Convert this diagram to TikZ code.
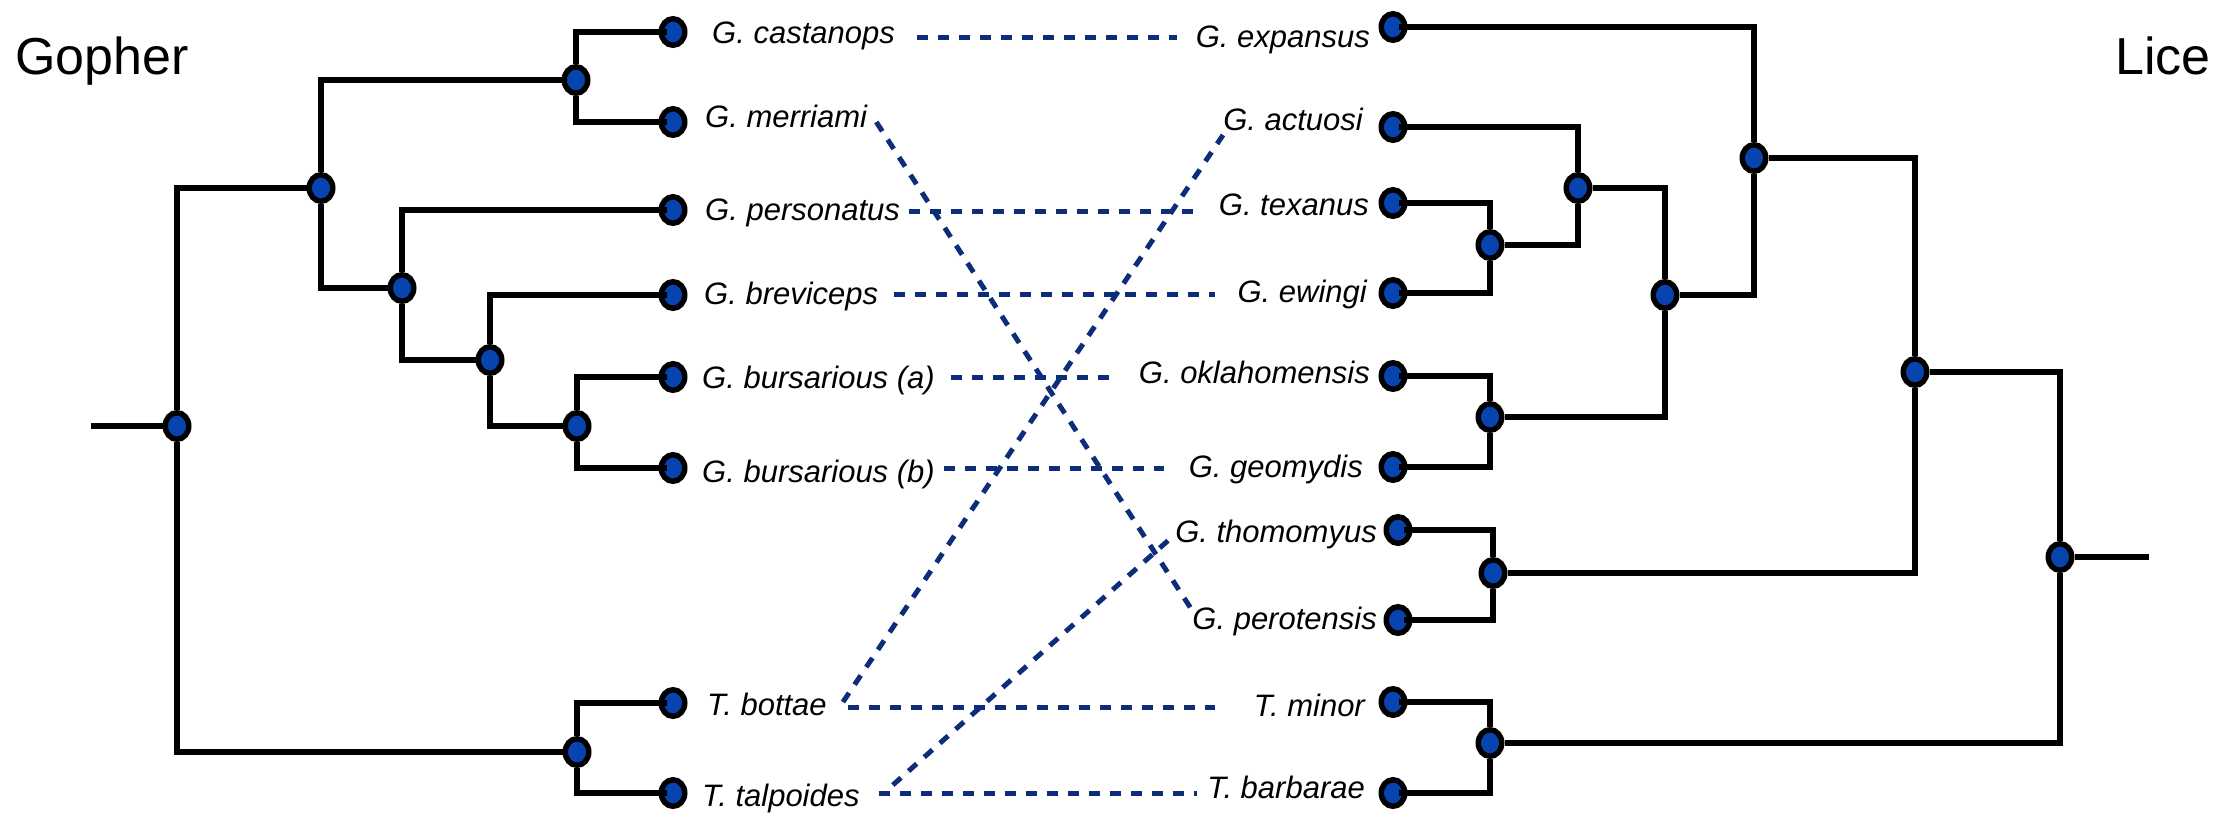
\documentclass[tikz,border=0pt]{standalone}
\usepackage{fontspec}
\setmainfont{Liberation Sans}
\usetikzlibrary{shapes.geometric}
\pgfdeclarelayer{bg}
\pgfsetlayers{bg,main}
\definecolor{nodeblue}{RGB}{8,68,176}
\definecolor{linkblue}{RGB}{12,46,122}

\begin{document}
\begin{tikzpicture}[x=1pt,y=-1pt,
  tnode/.style={ellipse, draw=black, line width=5.5pt, fill=nodeblue,
    minimum width=23.5pt, minimum height=26.5pt, inner sep=0pt},
  branch/.style={line width=5.3pt, black},
  taxon/.style={font=\fontsize{31}{37}\selectfont\itshape, inner sep=0pt},
  treetitle/.style={font=\fontsize{52}{60}\selectfont, inner sep=0pt},
  link/.style={linkblue, line width=5pt, dash pattern=on 11pt off 10pt},
]
\useasboundingbox (0,0) rectangle (2215,812);

% titles
\node[treetitle, anchor=base west] (gtitle) at (15,74) {Gopher};
\node[treetitle, anchor=base east] (ltitle) at (2211,74) {Lice};

% ---------------- gopher tree ----------------
\coordinate (gstub) at (91,426);
\node[tnode] (g0)  at (177,426) {};
\node[tnode] (gA)  at (321,188) {};
\node[tnode] (gCM) at (576,80)  {};
\node[tnode] (gP)  at (402,288) {};
\node[tnode] (gQ)  at (490,360) {};
\node[tnode] (gR)  at (577,426) {};
\node[tnode] (gT)  at (577,752) {};

\node[tnode] (castanops)  at (673,32)  {};
\node[tnode] (merriami)   at (673,122) {};
\node[tnode] (personatus) at (673,210) {};
\node[tnode] (breviceps)  at (673,295) {};
\node[tnode] (bursA)      at (673,377) {};
\node[tnode] (bursB)      at (673,468) {};
\node[tnode] (bottae)     at (673,703) {};
\node[tnode] (talpoides)  at (673,793) {};

\node[taxon, anchor=base west] (castanops-l)  at (712,43)  {G. castanops};
\node[taxon, anchor=base west] (merriami-l)   at (705,127) {G. merriami};
\node[taxon, anchor=base west] (personatus-l) at (705,220) {G. personatus};
\node[taxon, anchor=base west] (breviceps-l)  at (704,304) {G. breviceps};
\node[taxon, anchor=base west] (bursA-l)      at (702,388) {G. bursarious (a)};
\node[taxon, anchor=base west] (bursB-l)      at (702,482) {G. bursarious (b)};
\node[taxon, anchor=base west] (bottae-l)     at (707,715) {T. bottae};
\node[taxon, anchor=base west] (talpoides-l)  at (702,806) {T. talpoides};

% ---------------- lice tree ----------------
\coordinate (lstub) at (2149,557);
\node[tnode] (l0)   at (2060,557) {};
\node[tnode] (lETP) at (1915,372) {};
\node[tnode] (lE)   at (1754,158) {};
\node[tnode] (lATOG) at (1665,295) {};
\node[tnode] (lAT)  at (1578,188) {};
\node[tnode] (lTE)  at (1490,245) {};
\node[tnode] (lOG)  at (1490,417) {};
\node[tnode] (lTP)  at (1493,573) {};
\node[tnode] (lMB)  at (1490,743) {};

\node[tnode] (expansus)     at (1393,27)  {};
\node[tnode] (actuosi)      at (1393,127) {};
\node[tnode] (texanus)      at (1393,203) {};
\node[tnode] (ewingi)       at (1393,293) {};
\node[tnode] (oklahomensis) at (1393,376) {};
\node[tnode] (geomydis)     at (1393,467) {};
\node[tnode] (thomomyus)    at (1398,530) {};
\node[tnode] (perotensis)   at (1398,620) {};
\node[tnode] (minor)        at (1393,702) {};
\node[tnode] (barbarae)     at (1393,793) {};

\node[taxon, anchor=base east] (expansus-l)     at (1370,47)  {G. expansus};
\node[taxon, anchor=base east] (actuosi-l)      at (1363,130) {G. actuosi};
\node[taxon, anchor=base east] (texanus-l)      at (1369,215) {G. texanus};
\node[taxon, anchor=base east] (ewingi-l)       at (1367,302) {G. ewingi};
\node[taxon, anchor=base east] (oklahomensis-l) at (1370,383) {G. oklahomensis};
\node[taxon, anchor=base east] (geomydis-l)     at (1363,477) {G. geomydis};
\node[taxon, anchor=base east] (thomomyus-l)    at (1377,542) {G. thomomyus};
\node[taxon, anchor=base east] (perotensis-l)   at (1377,629) {G. perotensis};
\node[taxon, anchor=base east] (minor-l)        at (1365,716) {T. minor};
\node[taxon, anchor=base east] (barbarae-l)     at (1365,798) {T. barbarae};

% internal branches sit below the node markers
\begin{pgfonlayer}{bg}
  \draw[branch] (gstub) -- (g0);
  \draw[branch] (g0) |- (gA);
  \draw[branch] (g0) |- (gT);
  \draw[branch] (gA) |- (gCM);
  \draw[branch] (gA) |- (gP);
  \draw[branch] (gP) |- (gQ);
  \draw[branch] (gQ) |- (gR);

  \draw[branch] (lstub) -- (l0);
  \draw[branch] (l0) |- (lETP);
  \draw[branch] (l0) |- (lMB);
  \draw[branch] (lETP) |- (lE);
  \draw[branch] (lETP) |- (lTP);
  \draw[branch] (lE) |- (lATOG);
  \draw[branch] (lATOG) |- (lAT);
  \draw[branch] (lATOG) |- (lOG);
  \draw[branch] (lAT) |- (lTE);
\end{pgfonlayer}

% terminal branches run into the tip markers
\draw[branch] (gCM.north) |- ([xshift=-6pt]castanops.center);
\draw[branch] (gCM.south) |- ([xshift=-6pt]merriami.center);
\draw[branch] (gP.north)  |- ([xshift=-6pt]personatus.center);
\draw[branch] (gQ.north)  |- ([xshift=-6pt]breviceps.center);
\draw[branch] (gR.north)  |- ([xshift=-6pt]bursA.center);
\draw[branch] (gR.south)  |- ([xshift=-6pt]bursB.center);
\draw[branch] (gT.north)  |- ([xshift=-6pt]bottae.center);
\draw[branch] (gT.south)  |- ([xshift=-6pt]talpoides.center);

\draw[branch] (lE.north)  |- ([xshift=6pt]expansus.center);
\draw[branch] (lAT.north) |- ([xshift=6pt]actuosi.center);
\draw[branch] (lTE.north) |- ([xshift=6pt]texanus.center);
\draw[branch] (lTE.south) |- ([xshift=6pt]ewingi.center);
\draw[branch] (lOG.north) |- ([xshift=6pt]oklahomensis.center);
\draw[branch] (lOG.south) |- ([xshift=6pt]geomydis.center);
\draw[branch] (lTP.north) |- ([xshift=6pt]thomomyus.center);
\draw[branch] (lTP.south) |- ([xshift=6pt]perotensis.center);
\draw[branch] (lMB.north) |- ([xshift=6pt]minor.center);
\draw[branch] (lMB.south) |- ([xshift=6pt]barbarae.center);

% host--parasite associations
\draw[link] ([xshift=22pt,yshift=6pt]castanops-l.base east) -- ([xshift=-19pt,yshift=10pt]expansus-l.base west);
\draw[link] ([xshift=9pt,yshift=5pt]merriami-l.base east) -- ([xshift=1pt,yshift=17pt]perotensis-l.base west);
\draw[link] ([xshift=9pt,yshift=9pt]personatus-l.base east) -- ([xshift=-23pt,yshift=4pt]texanus-l.base west);
\draw[link] ([xshift=16pt,yshift=10pt]breviceps-l.base east) -- ([xshift=-22pt,yshift=8pt]ewingi-l.base west);
\draw[link] ([xshift=16pt,yshift=11pt]bursA-l.base east) -- ([xshift=-22pt,yshift=6pt]oklahomensis-l.base west);
\draw[link] ([xshift=9pt,yshift=14pt]bursB-l.base east) -- ([xshift=-25pt,yshift=9pt]geomydis-l.base west);
\draw[link] ([xshift=21pt,yshift=8pt]bottae-l.base east) -- ([xshift=-39pt,yshift=9pt]minor-l.base west);
\draw[link] ([xshift=19pt,yshift=13pt]talpoides-l.base east) -- ([xshift=-10pt,yshift=5pt]barbarae-l.base west);
\draw[link] ([xshift=16pt,yshift=13pt]bottae-l.base east) -- ([yshift=-5pt]actuosi-l.base west);
\draw[link] ([xshift=33pt,yshift=21pt]talpoides-l.base east) -- ([xshift=-3pt,yshift=5pt]thomomyus-l.base west);
\end{tikzpicture}
\end{document}
